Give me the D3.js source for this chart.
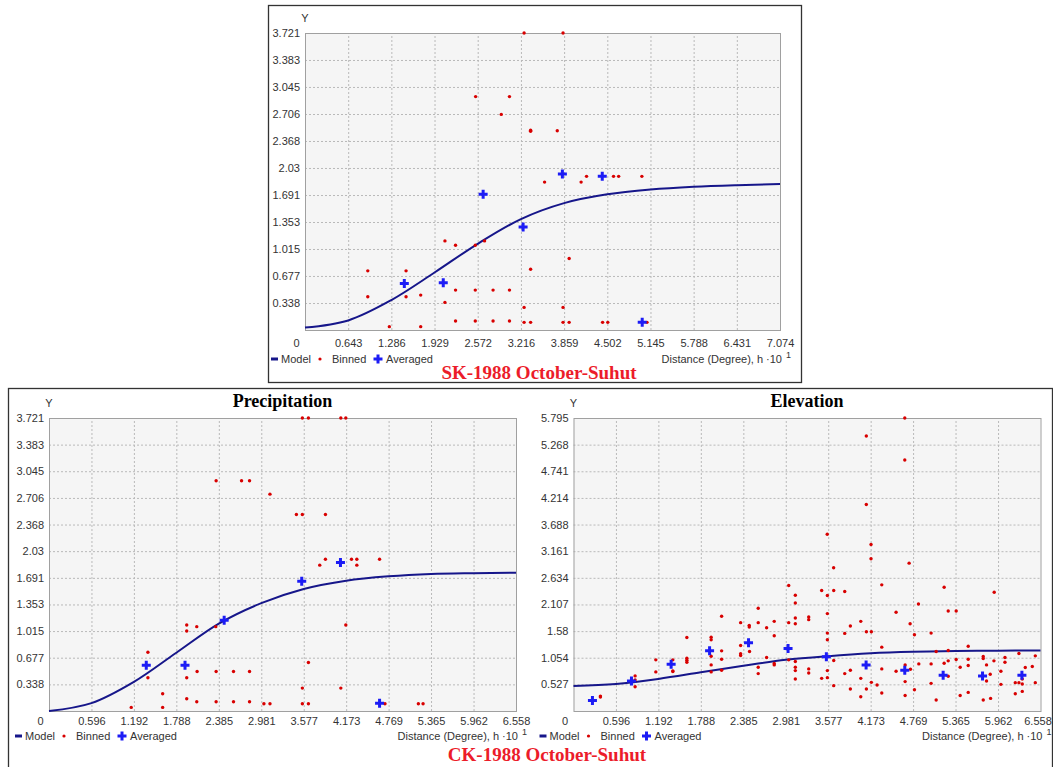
<!DOCTYPE html>
<html>
<head>
<meta charset="utf-8">
<script src="https://cdnjs.cloudflare.com/ajax/libs/d3/7.8.5/d3.min.js"></script>
<style>
body { margin: 0; background: #fff; }
svg text { font-family: "Liberation Sans", Arial, sans-serif; }
</style>
</head>
<body>
<div id="chart"></div>
<script>
var w = 1053,
	h = 767;

//tick labels
var skXTicks = ["0","0.643","1.286","1.929","2.572","3.216","3.859","4.502","5.145","5.788","6.431","7.074"];
var skYTicks = ["0.338","0.677","1.015","1.353","1.691","2.03","2.368","2.706","3.045","3.383","3.721"];
var ckXTicks = ["0","0.596","1.192","1.788","2.385","2.981","3.577","4.173","4.769","5.365","5.962","6.558"];
var prYTicks = ["0.338","0.677","1.015","1.353","1.691","2.03","2.368","2.706","3.045","3.383","3.721"];
var elYTicks = ["0.527","1.054","1.58","2.107","2.634","3.161","3.688","4.214","4.741","5.268","5.795"];

//SK-1988 : binned [h, gamma]
var skBinned = [
	[3.263,3.721],[3.843,3.721],[2.541,2.924],[3.045,2.924],[2.923,2.701],
	[3.360,2.504],[3.360,2.49],[3.757,2.496],[3.568,1.853],[4.112,1.853],
	[4.193,1.925],[4.595,1.925],[4.671,1.925],[5.017,1.925],
	[2.084,1.116],[2.242,1.062],[2.536,1.062],[2.674,1.116],[3.934,0.895],[3.360,0.762],
	[0.935,0.741],[1.505,0.741],[0.935,0.416],[1.505,0.416],[1.723,0.437],
	[2.242,0.500],[2.536,0.500],[2.801,0.500],[3.045,0.500],[2.084,0.346],
	[3.263,0.283],[3.843,0.283],[2.242,0.112],[2.536,0.112],[2.801,0.112],[3.045,0.112],
	[3.263,0.096],[3.360,0.096],[3.843,0.096],[3.934,0.096],[4.432,0.096],[4.509,0.096],[5.093,0.096],
	[1.256,0.042],[1.723,0.042]
];
var skAveraged = [[1.479,0.583],[2.059,0.591],[2.653,1.70],[3.248,1.291],[3.833,1.954],[4.427,1.925],[5.022,0.096]];
//model value read at each x tick
var skModel = [0.03,0.12,0.375,0.72,1.08,1.39,1.59,1.70,1.76,1.795,1.815,1.828];

//CK-1988 Precipitation
var prBinned = [
	[3.558,3.721],[3.643,3.721],[4.098,3.721],[4.168,3.721],
	[2.347,2.924],[2.704,2.924],[2.816,2.924],[3.103,2.754],
	[3.474,2.496],[3.558,2.496],[3.882,2.496],
	[3.882,1.928],[3.802,1.852],[4.248,1.928],[4.323,1.928],[4.323,1.852],[4.642,1.928],
	[1.934,1.092],[2.075,1.071],[2.342,1.071],[1.934,1.016],[4.168,1.092],
	[1.389,0.746],[3.643,0.616],[2.080,0.502],[2.347,0.502],[2.591,0.502],[2.816,0.502],
	[1.389,0.422],[1.934,0.422],[3.558,0.291],[4.098,0.291],[1.596,0.219],[1.934,0.156],
	[2.075,0.118],[2.347,0.118],[2.591,0.118],[2.816,0.118],
	[3.018,0.093],[3.103,0.093],[3.558,0.093],[3.643,0.093],[4.718,0.093],[5.187,0.093],[5.253,0.093],
	[1.155,0.046],[1.596,0.046]
];
var prAveraged = [[1.366,0.582],[1.910,0.582],[2.460,1.151],[3.549,1.648],[4.093,1.886],[4.642,0.097]];
var prModel = [0,0.10,0.37,0.74,1.11,1.37,1.55,1.655,1.71,1.74,1.75,1.755];

//CK-1988 Elevation
var elBinned = [
	[4.652,5.795],[4.112,5.439],[4.652,4.965],[4.112,4.083],[3.563,3.497],[4.178,3.293],[4.178,3.010],[4.713,2.924],[3.653,2.832],
	[0.378,0.276],[0.378,0.295],[0.865,0.694],[0.865,0.614],[0.865,0.481],
	[1.156,1.012],[1.156,0.773],[1.395,1.012],[1.395,0.793],[1.395,0.78],
	[1.592,1.455],[1.592,1.044],[1.592,1.004],[1.592,0.964],
	[1.933,1.461],[1.933,1.409],[1.933,1.084],[1.933,0.912],[1.933,0.773],
	[2.080,1.873],[2.080,1.190],[2.080,1.024],[2.080,0.805],
	[2.347,1.747],[2.468,1.694],[2.468,1.660],[2.594,2.032],[2.594,1.747],[2.712,1.648],[2.819,1.773],[2.819,1.489],
	[2.347,1.296],[2.472,1.177],[2.347,1.131],[2.347,1.097],[2.712,1.058],[2.819,0.938],[2.819,0.912],[2.594,0.865],[2.594,0.740],
	[3.022,2.483],[3.115,2.290],[3.115,2.137],[3.022,1.747],[3.115,1.839],[3.115,1.727],[3.303,1.859],[3.303,1.807],
	[3.022,1.012],[3.115,0.978],[3.115,0.865],[3.115,0.799],[3.115,0.634],[3.303,0.833],[3.303,0.753],
	[3.485,2.383],[3.654,2.383],[3.565,2.284],[3.809,2.364],[3.565,1.926],[3.565,1.541],[3.565,1.41],
	[3.654,0.998],[3.565,0.799],[3.485,0.646],[3.565,0.660],[3.654,0.501],
	[3.809,1.535],[3.888,1.680],[4.034,1.773],[4.113,1.568],[4.183,1.568],
	[3.809,0.740],[3.888,0.805],[3.888,0.435],[4.034,0.646],[4.034,0.282],[4.113,0.435],[4.183,0.567],[4.263,0.515],
	[4.329,2.495],[4.329,1.263],[4.329,0.833],[4.329,0.356],
	[5.205,2.449],[5.908,2.350],[4.844,2.117],[4.530,1.952],[5.262,1.978],[5.374,1.978],[4.727,1.727],[4.788,1.509],[5.022,1.541],
	[5.543,1.282],[5.093,1.177],[5.262,1.197],[5.374,1.018],[5.262,0.992],[5.205,0.944],[5.543,1.024],[5.754,1.078],[5.754,1.038],
	[5.904,0.992],[6.059,1.058],[6.255,1.137],[6.485,1.091],[6.059,0.964],
	[4.849,0.932],[5.022,0.932],[4.732,0.825],[4.657,0.912],[4.530,0.785],[4.657,0.581],[4.657,0.308],[4.788,0.421],[5.022,0.547],[5.093,0.217],
	[5.262,0.686],[5.430,0.865],[5.543,0.899],[5.430,0.308],[5.543,0.368],[5.800,0.912],[5.852,0.726],[5.800,0.594],[5.754,0.217],[5.857,0.249],
	[6.002,0.785],[6.002,0.527],[6.204,0.342],[6.302,0.388],[6.204,0.561],[6.255,0.561],[6.302,0.634],[6.302,0.535],[6.344,0.859],[6.443,0.879],[6.485,0.561]
];
var elAveraged = [[0.266,0.209],[0.814,0.594],[1.371,0.925],[1.911,1.190],[2.458,1.350],[3.013,1.237],[3.551,1.071],[4.109,0.912],[4.652,0.805],[5.191,0.706],[5.744,0.694],[6.297,0.706]];
var elModel = [0.495,0.535,0.635,0.765,0.895,1.012,1.085,1.14,1.17,1.185,1.193,1.197];

var svg = d3.select("#chart")
	.append("svg")
	.attr("width", w)
	.attr("height", h);

//outer frames
svg.append("rect")
	.attr("x", 268.5).attr("y", 5.5)
	.attr("width", 533).attr("height", 377)
	.attr("fill", "none").attr("stroke", "#333").attr("stroke-width", 1.3);
svg.append("rect")
	.attr("x", 8.5).attr("y", 388.5)
	.attr("width", 1044).attr("height", 420)
	.attr("fill", "none").attr("stroke", "#333").attr("stroke-width", 1.3);

function cross(sel, size) {
	sel.append("path")
		.attr("d", "M" + (-size) + ",0H" + size + "M0," + (-size) + "V" + size)
		.attr("stroke", "#1c1cf5")
		.attr("stroke-width", 3)
		.attr("fill", "none");
}

function drawPanel(p) {
	var xVals = p.xTicks.map(Number),
		yVals = p.yTicks.map(Number);
	var x = d3.scaleLinear().domain([0, xVals[xVals.length - 1]]).range([p.left, p.right]);
	var y = d3.scaleLinear().domain([0, yVals[yVals.length - 1]]).range([p.bottom, p.top]);
	var ph = p.bottom - p.top,
		pw = p.right - p.left;
	var g = svg.append("g");

	g.append("rect")
		.attr("x", p.left).attr("y", p.top)
		.attr("width", pw).attr("height", ph)
		.attr("fill", "#f5f5f5");

	//grid
	g.append("g")
		.attr("class", "grid")
		.attr("transform", "translate(0," + p.bottom + ")")
		.call(d3.axisBottom(x).tickValues(xVals.slice(1, -1)).tickSize(-ph).tickFormat(""));
	g.append("g")
		.attr("class", "grid")
		.attr("transform", "translate(" + p.left + ",0)")
		.call(d3.axisLeft(y).tickValues(yVals.slice(0, -1)).tickSize(-pw).tickFormat(""));
	g.selectAll(".grid .domain").remove();
	g.selectAll(".grid line")
		.attr("stroke", "#b9b9b9")
		.attr("stroke-dasharray", "2,2");

	g.append("rect")
		.attr("x", p.left + 0.5).attr("y", p.top + 0.5)
		.attr("width", pw).attr("height", ph)
		.attr("fill", "none").attr("stroke", "#a0a0a0");

	//axes labels
	var n = xVals.length;
	var xa = g.append("g")
		.attr("transform", "translate(0," + p.bottom + ")")
		.call(d3.axisBottom(x).tickValues(xVals).tickSize(0).tickPadding(p.xPad)
			.tickFormat(function(d, i) { return p.xTicks[i]; }));
	xa.select(".domain").remove();
	xa.selectAll("text").attr("font-size", "11px").attr("fill", "#333")
		.attr("dx", function(d, i) { return i == 0 ? -9 : (i == n - 1 ? (p.lastDx || 0) : 0); });

	var ya = g.append("g")
		.attr("transform", "translate(" + p.left + ",0)")
		.call(d3.axisLeft(y).tickValues(yVals).tickSize(0).tickPadding(5)
			.tickFormat(function(d, i) { return p.yTicks[i]; }));
	ya.select(".domain").remove();
	ya.selectAll("text").attr("font-size", "11px").attr("fill", "#333");

	g.append("text")
		.attr("x", p.left).attr("y", p.top - 11)
		.attr("text-anchor", "middle")
		.attr("font-size", "11px").attr("fill", "#333")
		.text("Y");

	if (p.title) {
		g.append("text")
			.attr("x", (p.left + p.right) / 2).attr("y", p.top - 11)
			.attr("text-anchor", "middle")
			.style("font-family", "'Liberation Serif', 'Times New Roman', serif")
			.attr("font-weight", "bold")
			.attr("font-size", "18px")
			.text(p.title);
	}

	//model
	var line = d3.line()
		.x(function(d) { return x(d[0]); })
		.y(function(d) { return y(d[1]); })
		.curve(d3.curveCatmullRom.alpha(0.5));
	g.append("path")
		.datum(xVals.map(function(v, i) { return [v, p.model[i]]; }))
		.attr("d", line)
		.attr("fill", "none")
		.attr("stroke", "#16168a")
		.attr("stroke-width", 2);

	//binned
	g.selectAll(".bin")
		.data(p.binned)
		.enter()
		.append("circle")
		.attr("cx", function(d) { return x(d[0]); })
		.attr("cy", function(d) { return y(d[1]); })
		.attr("r", 1.7)
		.attr("fill", "#d80000");

	//averaged
	g.selectAll(".avg")
		.data(p.averaged)
		.enter()
		.append("g")
		.attr("transform", function(d) { return "translate(" + x(d[0]) + "," + y(d[1]) + ")"; })
		.call(cross, 4.5);

	//legend
	var ly = p.bottom + p.legendDy;
	var lg = g.append("g").attr("transform", "translate(" + p.left + "," + ly + ")");
	lg.append("line").attr("x1", -34).attr("x2", -27).attr("y1", 0).attr("y2", 0)
		.attr("stroke", "#16168a").attr("stroke-width", 3);
	lg.append("text").attr("x", -24).attr("y", 4).attr("font-size", "11px").attr("fill", "#333").text("Model");
	lg.append("circle").attr("cx", 15).attr("cy", 0).attr("r", 1.6).attr("fill", "#d80000");
	lg.append("text").attr("x", 27).attr("y", 4).attr("font-size", "11px").attr("fill", "#333").text("Binned");
	lg.append("g").attr("transform", "translate(73,0)").call(cross, 4.5);
	lg.append("text").attr("x", 81).attr("y", 4).attr("font-size", "11px").attr("fill", "#333").text("Averaged");

	g.append("text")
		.attr("x", p.right + 2).attr("y", ly + 4)
		.attr("text-anchor", "end")
		.attr("font-size", "11px").attr("fill", "#333")
		.text("Distance (Degree), h \u00b710");
	g.append("text")
		.attr("x", p.right + 6).attr("y", ly - 1)
		.attr("font-size", "9px").attr("fill", "#333")
		.text("1");
}

drawPanel({
	left: 305, right: 780, top: 33, bottom: 330,
	xTicks: skXTicks, yTicks: skYTicks,
	binned: skBinned, averaged: skAveraged, model: skModel,
	xPad: 9, legendDy: 29
});
drawPanel({
	left: 49, right: 516, top: 418, bottom: 711,
	xTicks: ckXTicks, yTicks: prYTicks,
	binned: prBinned, averaged: prAveraged, model: prModel,
	title: "Precipitation", xPad: 6, legendDy: 25
});
drawPanel({
	left: 573.5, right: 1040.5, top: 418, bottom: 711,
	xTicks: ckXTicks, yTicks: elYTicks,
	binned: elBinned, averaged: elAveraged, model: elModel,
	title: "Elevation", xPad: 6, legendDy: 25, lastDx: -3
});

//captions
svg.append("text")
	.attr("x", 539).attr("y", 379)
	.attr("text-anchor", "middle")
	.style("font-family", "'Liberation Serif', 'Times New Roman', serif")
	.attr("font-weight", "bold").attr("font-size", "19px")
	.attr("fill", "#ec1c2a")
	.text("SK-1988 October-Suhut");
svg.append("text")
	.attr("x", 547).attr("y", 761)
	.attr("text-anchor", "middle")
	.style("font-family", "'Liberation Serif', 'Times New Roman', serif")
	.attr("font-weight", "bold").attr("font-size", "19px")
	.attr("fill", "#ec1c2a")
	.text("CK-1988 October-Suhut");
</script>
</body>
</html>
